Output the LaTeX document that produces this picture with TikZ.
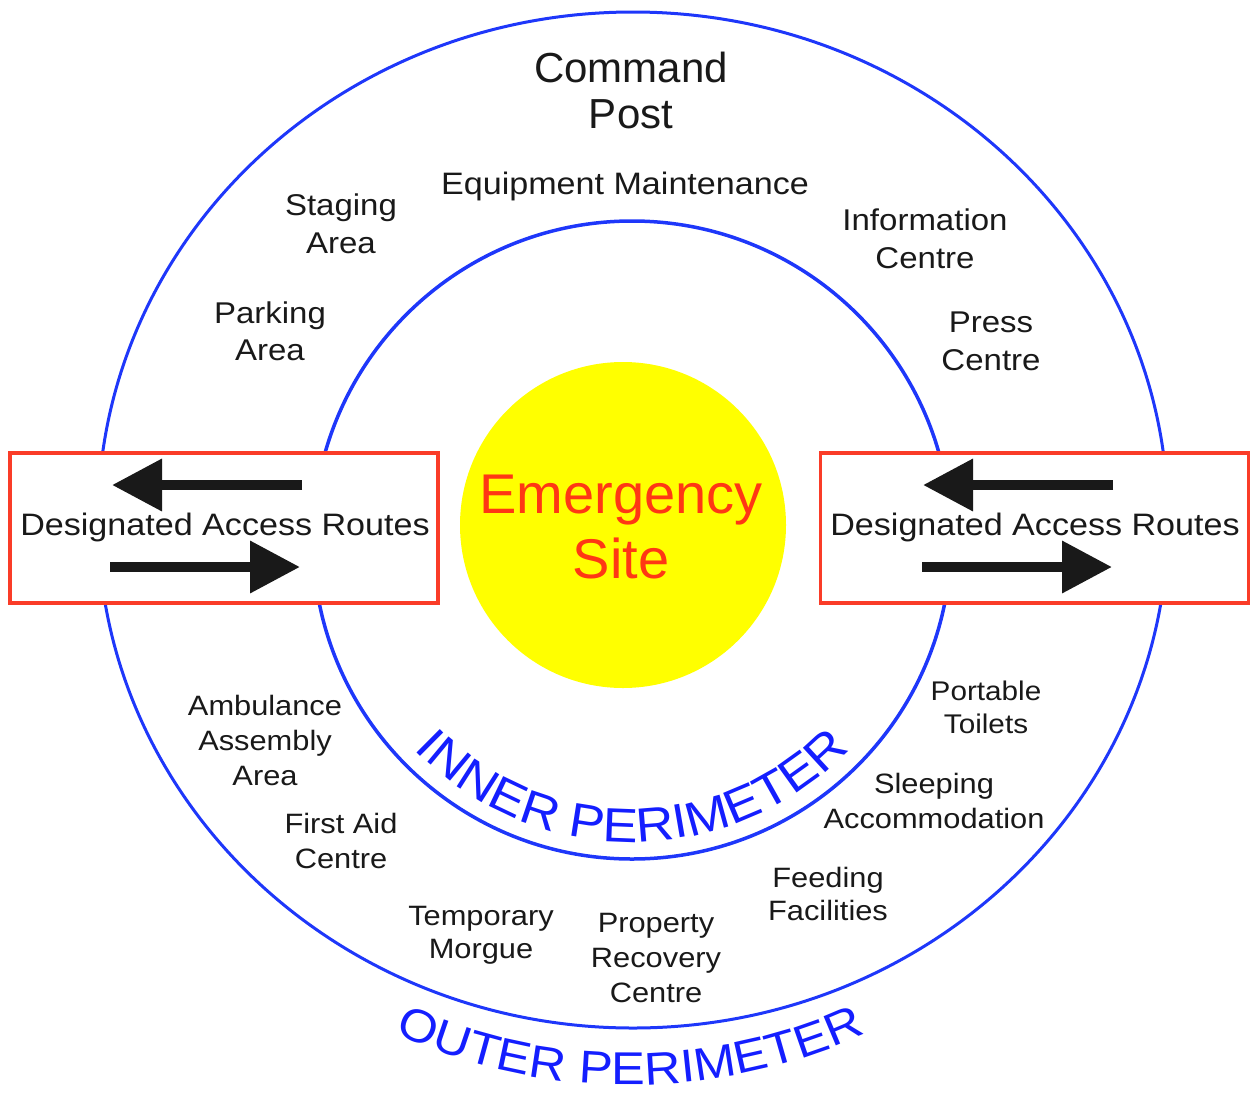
\documentclass[tikz,border=0pt]{standalone}
\usepackage{fontspec}
\setmainfont{Liberation Sans}
\newfontfamily\lblfont{Liberation Sans}[FakeStretch=1.1]
\usetikzlibrary{arrows.meta,decorations.text}
\definecolor{ringblue}{RGB}{30,55,250}
\definecolor{perimblue}{RGB}{20,30,255}
\definecolor{boxred}{RGB}{250,60,40}
\definecolor{sitered}{RGB}{255,55,20}
\definecolor{siteyellow}{RGB}{255,255,0}
\definecolor{ink}{RGB}{25,25,25}
\begin{document}
\begin{tikzpicture}[x=1pt,y=-1pt,
  lbl/.style 2 args={text=ink, align=center, anchor=base, inner sep=0pt,
    font=\lblfont\fontsize{#1}{#2}\selectfont},
  big/.style 2 args={align=center, anchor=base, inner sep=0pt,
    font=\fontsize{#1}{#2}\selectfont},
  routebox/.style={draw=boxred, line width=3.4pt, fill=white, minimum width=428pt,
    minimum height=150pt, inner sep=0pt},
  route/.style={draw=ink, line width=10pt, -{Triangle[length=50pt,width=50pt]}},
  ring/.style={draw=ringblue},
]
\useasboundingbox (0,0) rectangle (1250,1093);
% perimeters
\draw[ring, line width=3pt] (633,520) ellipse [x radius=535, y radius=508];
\draw[ring, line width=3.5pt] (632,540) circle [radius=319];
% access route boxes
\node[routebox] (boxL) at (224,528) {};
\node[routebox] (boxR) at (1034.5,528) {};
% emergency site
\node[circle, fill=siteyellow, minimum size=326pt, inner sep=0pt] (site) at (623,525) {};
\node[big={56}{65}, text=sitered] (sitetext) at (621,578) {Emergency\\Site};
% labels (base anchor = baseline of the last line)
\node[big={42}{46}, text=ink] (cmd) at (631,128) {Command\\Post};
\node[lbl={31}{38}] (equip) at (625,194) {Equipment Maintenance};
\node[lbl={30}{38}] (staging) at (341,253) {Staging\\Area};
\node[lbl={30}{37}] (parking) at (270,360) {Parking\\Area};
\node[lbl={30}{38}] (info) at (925,268) {Information\\Centre};
\node[lbl={30}{38}] (press) at (991,370) {Press\\Centre};
\node[lbl={28}{35}] (amb) at (265,785) {Ambulance\\Assembly\\Area};
\node[lbl={28}{35}] (firstaid) at (341,868) {First Aid\\Centre};
\node[lbl={27}{33}] (portable) at (986,733) {Portable\\Toilets};
\node[lbl={28}{35}] (sleeping) at (934,828) {Sleeping\\Accommodation};
\node[lbl={28}{33}] (feeding) at (828,920) {Feeding\\Facilities};
\node[lbl={28}{33}] (morgue) at (481,958) {Temporary\\Morgue};
\node[lbl={28}{35}] (property) at (656,1002) {Property\\Recovery\\Centre};
\node[lbl={31}{38}] (routesL) at (225,535) {Designated Access Routes};
\node[lbl={31}{38}] (routesR) at (1035,535) {Designated Access Routes};
% route arrows
\coordinate (l1s) at (302,485); \coordinate (l1e) at (112,485);
\coordinate (l2s) at (110,567); \coordinate (l2e) at (300,567);
\coordinate (r1s) at (1113,485); \coordinate (r1e) at (923,485);
\coordinate (r2s) at (922,567); \coordinate (r2e) at (1112,567);
\draw[route] (l1s) -- (l1e);
\draw[route] (l2s) -- (l2e);
\draw[route] (r1s) -- (r1e);
\draw[route] (r2s) -- (r2e);
% curved perimeter labels
\path[decorate, decoration={text along path, text align=center,
  text={|\lblfont\fontsize{48}{48}\selectfont\color{perimblue}|INNER PERIMETER}}]
  (632,540) ++(150:302) arc[start angle=150, end angle=30, radius=302];
\path[decorate, decoration={text along path, text align=center,
  text={|\lblfont\fontsize{46}{46}\selectfont\color{perimblue}|OUTER PERIMETER}}]
  (630,520) ++(130:565) arc[start angle=130, end angle=50, radius=565];
\end{tikzpicture}
\end{document}
